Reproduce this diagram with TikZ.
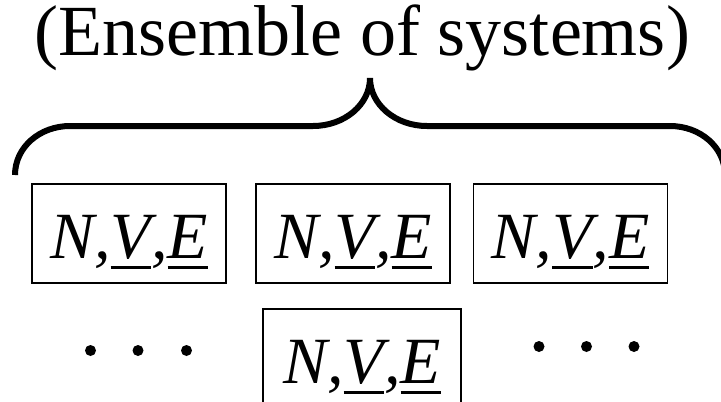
\documentclass[tikz,border=0pt]{standalone}
\usepackage{fontspec}
\setmainfont{Liberation Serif}
\newcommand\ulx[1]{\setbox0\hbox{#1}\rlap{\rule[-10.5pt]{\wd0}{3pt}}\box0}
\tikzset{
  sysbox/.style={draw, line width=1.6pt, minimum width=194pt, minimum height=99pt,
    inner sep=0pt, text height=49pt, text depth=0pt,
    font=\fontsize{66}{70}\selectfont\itshape},
  bracepath/.style={line width=6pt},
  dotnode/.style={circle, fill, inner sep=0pt, minimum size=11pt},
}
\begin{document}
\begin{tikzpicture}[x=1pt,y=-1pt]
\useasboundingbox (0,0) rectangle (721,402);
\begin{scope}
\clip (0,0) rectangle (721,402);
\node[anchor=base, inner sep=0pt, font=\fontsize{72}{80}\selectfont] (title) at (362,55) {(Ensemble of systems)};
\draw[bracepath] (15,175) .. controls (15,147) and (40,126) .. (70,126) -- (313,126)
  .. controls (344.5,126) and (370,104.5) .. (370,78)
  .. controls (370,104.5) and (395.5,126) .. (427,126) -- (670,126)
  .. controls (700,126) and (725,147) .. (725,175);
\node[sysbox] (s1) at (129,233.5) {N,\ulx{V},\ulx{E}};
\node[sysbox] (s2) at (353,233.5) {N,\ulx{V},\ulx{E}};
\node[sysbox] (s3) at (570.5,233.5) {N,\ulx{V},\ulx{E}};
\node[sysbox, minimum width=198pt] (s4) at (362,358.5) {N,\ulx{V},\ulx{E}};
\node[dotnode] (l1) at (90.5,350.5) {};
\node[dotnode] (l2) at (138,350.5) {};
\node[dotnode] (l3) at (186.5,350.5) {};
\node[dotnode] (r1) at (539,346.5) {};
\node[dotnode] (r2) at (586.5,346.5) {};
\node[dotnode] (r3) at (634,346.5) {};
\end{scope}
\end{tikzpicture}
\end{document}
